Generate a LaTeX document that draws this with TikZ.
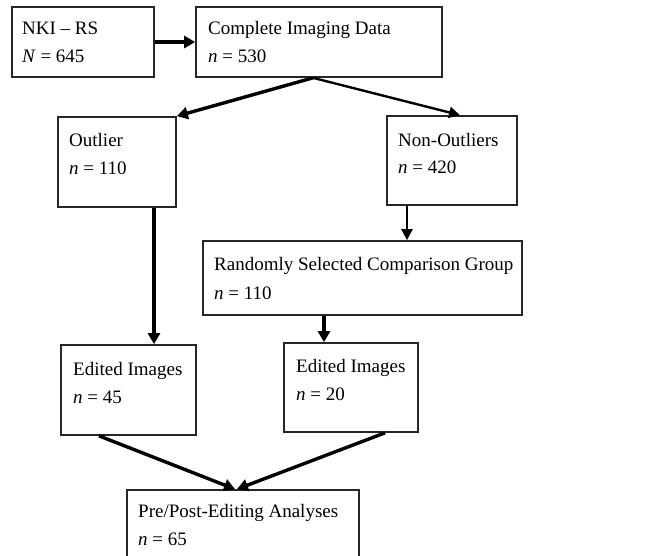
\documentclass[tikz,border=0pt]{standalone}
\usepackage{fontspec}
\setmainfont{Liberation Serif}
\usetikzlibrary{arrows.meta}
\tikzset{
  box/.style={draw=black!85, line width=1.7pt, rectangle, inner sep=0pt},
  txt/.style={anchor=base west, inner sep=0pt, font=\fontsize{19}{28}\selectfont},
  thk/.style={line width=3.4pt, -{Triangle[length=11pt,width=12pt]}},
  thn/.style={line width=2.4pt, -{Triangle[length=11pt,width=11pt]}}
}
\begin{document}
\begin{tikzpicture}[x=1pt,y=-1pt]
\useasboundingbox (0,0) rectangle (650,556);
\clip (0,0) rectangle (650,556);
\fill[white] (0,0) rectangle (650,556);
% boxes
\node[box, minimum width=142, minimum height=70] (b1) at (83,42) {};
\node[box, minimum width=246, minimum height=70] (b2) at (319,42) {};
\node[box, minimum width=118, minimum height=90] (b3) at (117,162) {};
\node[box, minimum width=130, minimum height=89] (b4) at (452,160.5) {};
\node[box, minimum width=319, minimum height=74] (b5) at (362.5,278) {};
\node[box, minimum width=135, minimum height=90] (b6) at (128.5,390) {};
\node[box, minimum width=134, minimum height=89] (b7) at (351,387.5) {};
\node[box, minimum width=232, minimum height=85] (b8) at (243,532.5) {};
% texts
\node[txt] (t1a) at (22,35) {NKI – RS};
\node[txt] (t1b) at (22,63) {\textit{N} = 645};
\node[txt] (t2a) at (208,35) {Complete Imaging Data};
\node[txt] (t2b) at (208,63) {\textit{n} = 530};
\node[txt] (t3a) at (69,147) {Outlier};
\node[txt] (t3b) at (69,175) {\textit{n} = 110};
\node[txt] (t4a) at (398,147) {Non-Outliers};
\node[txt] (t4b) at (398,174) {\textit{n} = 420};
\node[txt] (t5a) at (214,270) {Randomly Selected Comparison Group};
\node[txt] (t5b) at (214,299) {\textit{n} = 110};
\node[txt] (t6a) at (73,375) {Edited Images};
\node[txt] (t6b) at (73,403) {\textit{n} = 45};
\node[txt] (t7a) at (296,372) {Edited Images};
\node[txt] (t7b) at (296,400) {\textit{n} = 20};
\node[txt] (t8a) at (138,517) {Pre/Post-Editing Analyses};
\node[txt] (t8b) at (138,545) {\textit{n} = 65};
% connectors
\draw[thk] (b1.east) -- (b2.west);
\draw[thk] ([xshift=-6pt]b2.south) -- (b3.north east);
\draw[thn] ([xshift=-6pt]b2.south) -- ([xshift=8pt]b4.north);
\draw[thn] ([xshift=-45pt]b4.south) -- ([xshift=44.5pt]b5.north);
\draw[thk] ([xshift=37pt]b3.south) -- ([xshift=25.5pt]b6.north);
\draw[thk] ([xshift=-38.5pt]b5.south) -- ([xshift=-27pt]b7.north);
\draw[thk] ([xshift=-29.5pt]b6.south) -- ([xshift=-8pt]b8.north);
\draw[thk] ([xshift=34pt]b7.south) -- ([xshift=-6pt]b8.north);
\end{tikzpicture}
\end{document}
